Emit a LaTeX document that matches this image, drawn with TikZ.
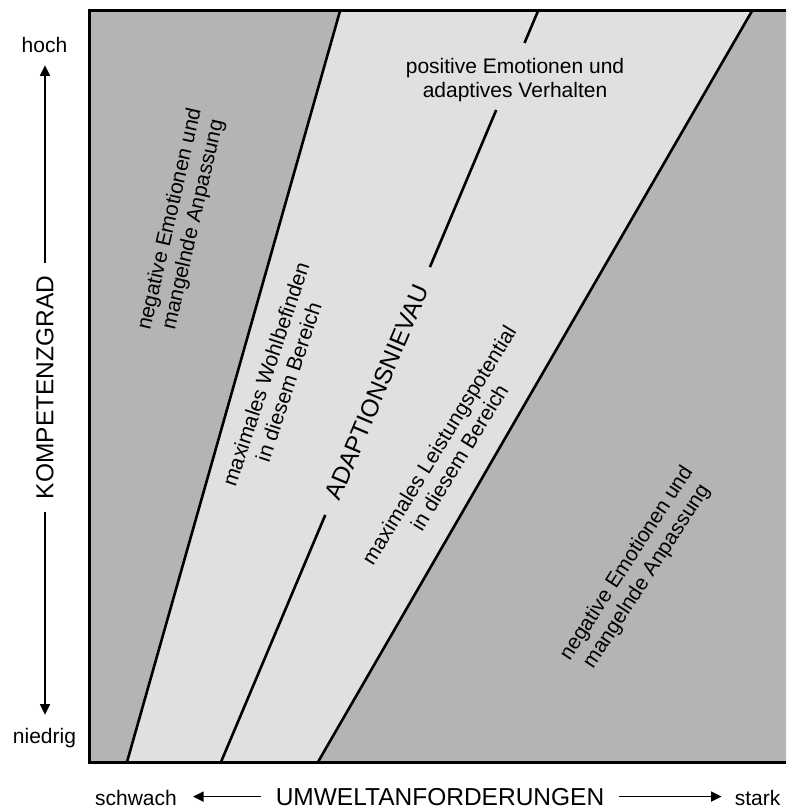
\documentclass[tikz,border=0pt]{standalone}
\usepackage{fontspec}
\setmainfont{Liberation Sans}
\usetikzlibrary{arrows.meta,calc}
\definecolor{zonedark}{RGB}{180,180,180}
\definecolor{zonelight}{RGB}{224,224,224}
\begin{document}
\begin{tikzpicture}[x=1pt,y=-1pt,
  bound/.style={line width=2.6pt},
  frameline/.style={line width=3pt, line join=miter},
  axis/.style={line width=1.5pt},
  axisarrow/.style={axis, -{Triangle[length=10.5pt,width=10pt]}},
  lbl/.style={font=\fontsize{21}{24}\selectfont, align=center, inner sep=0pt},
  big/.style={font=\fontsize{24.5}{28}\selectfont, inner sep=0pt}]
\useasboundingbox (0,0) rectangle (786,810);

% boundary end points
\coordinate (leftTop)  at (340,11);
\coordinate (leftBot)  at (127,762);
\coordinate (midTop)   at (538,11);
\coordinate (midBot)   at (221,762);
\coordinate (rightTop) at (752,11);
\coordinate (rightBot) at (318,762);

% zones
\fill[zonedark]  (89,11) -- (leftTop) -- (leftBot) -- (89,762) -- cycle;
\fill[zonelight] (leftTop) -- (rightTop) -- (rightBot) -- (leftBot) -- cycle;
\fill[zonedark]  (rightTop) -- (786,11) -- (786,762) -- (rightBot) -- cycle;

% zone boundaries
\draw[bound] (leftTop) -- (leftBot);
\draw[bound] (rightTop) -- (rightBot);
\draw[bound] (midTop) -- ($(midTop)!0.0426!(midBot)$);
\draw[bound] ($(midTop)!0.1318!(midBot)$) -- ($(midTop)!0.341!(midBot)$);
\draw[bound] ($(midTop)!0.671!(midBot)$) -- (midBot);

% frame
\draw[frameline] (786,11) -- (89,11) -- (89,762) -- (786,762);

% zone labels
\node[lbl, rotate=77] (negLeft) at (182,222) {negative Emotionen und\\mangelnde Anpassung};
\node[lbl, rotate=71.5] (wohl) at (277,378) {maximales Wohlbefinden\\in diesem Bereich};
\node[big, rotate=67.1] (adapt) at (377,392) {ADAPTIONSNIEVAU};
\node[lbl, rotate=58.5] (leist) at (449,451) {maximales Leistungspotential\\in diesem Bereich};
\node[lbl, rotate=57] (negRight) at (637,570) {negative Emotionen und\\mangelnde Anpassung};
\node[lbl] (posEm) at (515,80.5) {positive Emotionen und\\adaptives Verhalten};

% vertical axis
\node[lbl, anchor=base, inner ysep=12pt] (hoch) at (44.5,53) {hoch};
\node[lbl, anchor=base, inner ysep=13pt] (niedrig) at (44.5,743) {niedrig};
\node[big, rotate=90, inner xsep=13pt] (kompetenz) at (45,387.5) {KOMPETENZGRAD};
\draw[axisarrow] (kompetenz.east) -- (kompetenz.east |- hoch.south);
\draw[axisarrow] (kompetenz.west) -- (kompetenz.west |- niedrig.north);

% horizontal axis
\node[big, anchor=base, inner xsep=15pt] (umwelt) at (440,805) {UMWELTANFORDERUNGEN};
\node[lbl, anchor=base, inner xsep=16pt] (schwach) at (136,805) {schwach};
\node[lbl, anchor=base, inner xsep=13pt] (stark) at (757.5,805) {stark};
\draw[axisarrow] (umwelt.west) -- (umwelt.west -| schwach.east);
\draw[axisarrow] (umwelt.east) -- (umwelt.east -| stark.west);
\end{tikzpicture}
\end{document}
